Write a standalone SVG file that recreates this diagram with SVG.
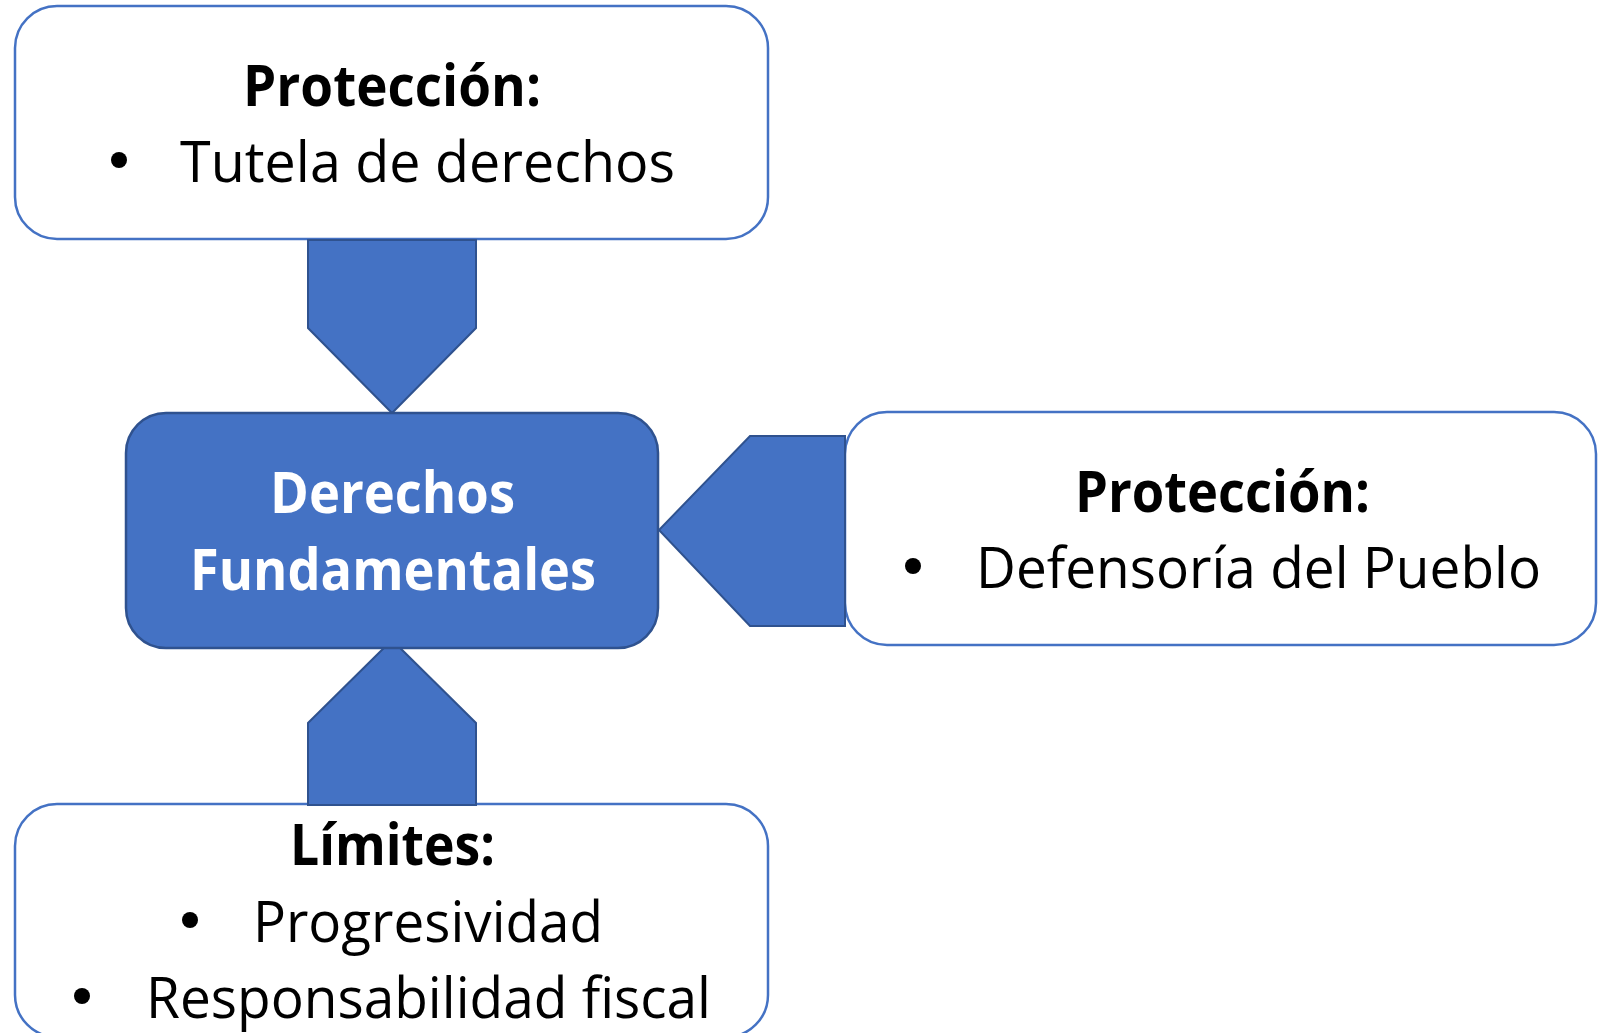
<svg xmlns="http://www.w3.org/2000/svg" width="1598" height="1033" viewBox="0 0 1598 1033">
<style>
.box{fill:#FFFFFF;stroke:#4472C4;stroke-width:2.5}
.core{fill:#4472C4;stroke:#2F528F;stroke-width:2.5}
.arrow{fill:#4472C4;stroke:#2F528F;stroke-width:2}
.t{font-family:"Open Sans","Noto Sans","Liberation Sans",sans-serif;font-size:57px;fill:#000000}
.b{font-weight:bold}
.w{fill:#FFFFFF;font-weight:bold}
.dot{fill:#000000}
</style>
<rect width="1598" height="1033" fill="#FFFFFF"/>
<g id="node-top">
<rect class="box" x="15" y="6" width="753" height="233" rx="42"/>
<text class="t b" x="243" y="106" textLength="298" lengthAdjust="spacingAndGlyphs">Protección:</text>
<circle class="dot" cx="119" cy="160" r="8"/>
<text class="t" x="180" y="182" textLength="495" lengthAdjust="spacingAndGlyphs">Tutela de derechos</text>
</g>
<g id="node-right">
<rect class="box" x="845" y="412" width="751" height="233" rx="42"/>
<text class="t b" x="1075" y="512" textLength="295" lengthAdjust="spacingAndGlyphs">Protección:</text>
<circle class="dot" cx="913" cy="566" r="8"/>
<text class="t" x="976" y="588" textLength="565" lengthAdjust="spacingAndGlyphs">Defensoría del Pueblo</text>
</g>
<g id="node-bottom">
<rect class="box" x="15" y="804" width="753" height="233" rx="42"/>
<text class="t b" x="290" y="865" textLength="205" lengthAdjust="spacingAndGlyphs">Límites:</text>
<circle class="dot" cx="190" cy="920" r="8"/>
<text class="t" x="253" y="942" textLength="350" lengthAdjust="spacingAndGlyphs">Progresividad</text>
<circle class="dot" cx="82" cy="996" r="8"/>
<text class="t" x="146" y="1018" textLength="565" lengthAdjust="spacingAndGlyphs">Responsabilidad fiscal</text>
</g>
<g id="connectors">
<polygon class="arrow" points="308,240 476,240 476,328 392,413 308,328"/>
<polygon class="arrow" points="845,436 845,626 750,626 659,530 750,436"/>
<polygon class="arrow" points="308,805 308,723 392,640 476,723 476,805"/>
</g>
<g id="node-center">
<rect class="core" x="126" y="413" width="532" height="235" rx="40"/>
<text class="t w" x="270" y="513" textLength="245" lengthAdjust="spacingAndGlyphs">Derechos</text>
<text class="t w" x="190" y="590" textLength="406" lengthAdjust="spacingAndGlyphs">Fundamentales</text>
</g>
</svg>
